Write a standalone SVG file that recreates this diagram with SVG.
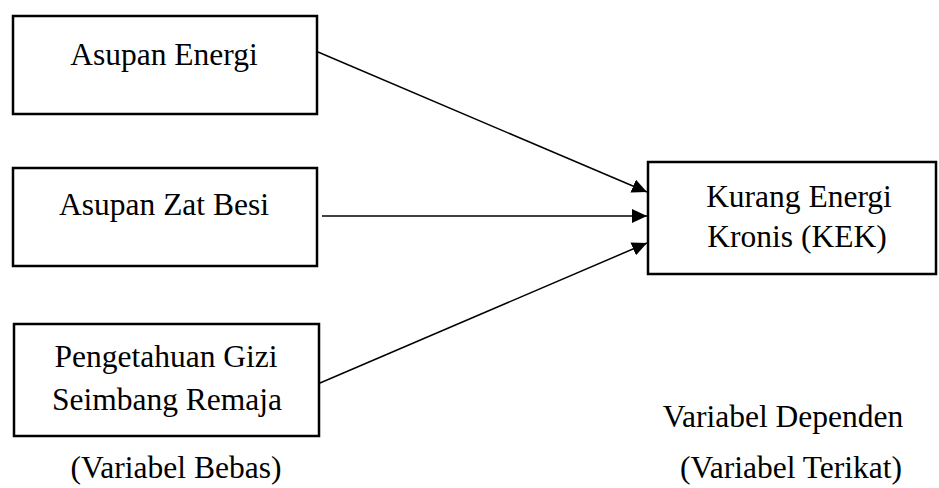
<svg xmlns="http://www.w3.org/2000/svg" width="939" height="488" viewBox="0 0 939 488">
<style>
.box{fill:#fff;stroke:#000;stroke-width:2.5}
.t{font-family:"Liberation Serif","Times New Roman",serif;font-size:31.5px;fill:#000;text-anchor:middle}
.c{stroke:#000;stroke-width:1.5;fill:none}
</style>
<defs>
<marker id="ah" markerWidth="16" markerHeight="14" refX="15" refY="7" orient="auto" markerUnits="userSpaceOnUse">
<path d="M0,0 L15,7 L0,14 Z" fill="#000"/>
</marker>
</defs>
<rect width="939" height="488" fill="#fff"/>
<g id="n1">
<rect class="box" x="13" y="16" width="304" height="98"/>
<text class="t" x="164" y="65">Asupan Energi</text>
</g>
<g id="n2">
<rect class="box" x="13" y="168" width="304" height="98"/>
<text class="t" x="164" y="215">Asupan Zat Besi</text>
</g>
<g id="n3">
<rect class="box" x="14" y="324" width="305" height="112"/>
<text class="t" x="166" y="367">Pengetahuan Gizi</text>
<text class="t" x="167" y="410">Seimbang Remaja</text>
</g>
<g id="n4">
<rect class="box" x="648" y="162" width="288" height="112"/>
<text class="t" x="799" y="207">Kurang Energi</text>
<text class="t" x="797" y="247">Kronis (KEK)</text>
</g>
<g id="labels">
<text class="t" x="176" y="478">(Variabel Bebas)</text>
<text class="t" x="783" y="427">Variabel Dependen</text>
<text class="t" x="791" y="478">(Variabel Terikat)</text>
</g>
<g id="connectors">
<line class="c" x1="318" y1="52" x2="647" y2="192" marker-end="url(#ah)"/>
<line class="c" x1="322" y1="216" x2="647" y2="216" marker-end="url(#ah)"/>
<line class="c" x1="320" y1="383" x2="647" y2="243" marker-end="url(#ah)"/>
</g>
</svg>
